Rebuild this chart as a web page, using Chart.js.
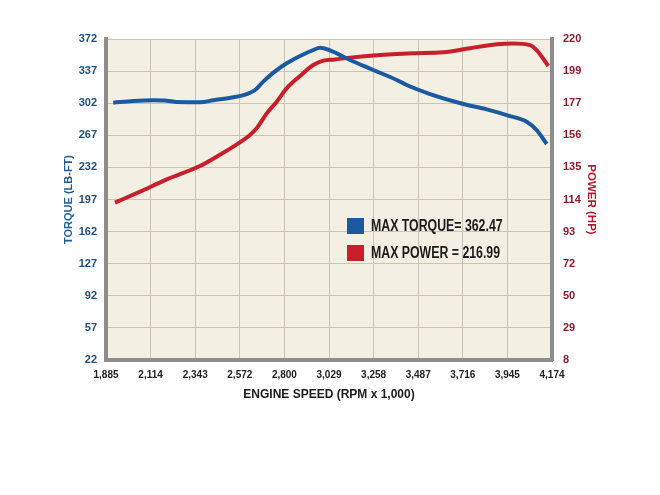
<!DOCTYPE html>
<html>
<head>
<meta charset="utf-8">
<title>Engine dyno</title>
<script src="https://cdn.jsdelivr.net/npm/chart.js@4.4.1/dist/chart.umd.min.js"></script>
<style>
  html, body { margin: 0; padding: 0; background: #fff; }
  #wrap { width: 660px; height: 495px; }
</style>
</head>
<body>
<div id="wrap"><canvas id="dynoChart" width="660" height="495"></canvas></div>
<script>
'use strict';

// ---- data
const torqueRpm = [1922, 2025, 2128, 2197, 2248, 2367, 2436, 2538, 2607, 2650, 2692, 2744, 2812, 2881, 2949, 2983,
  3035, 3137, 3257, 3377, 3428, 3548, 3719, 3839, 3958, 4044, 4095, 4147];
const torque = [302.6, 304.4, 305.2, 304.8, 303.3, 303, 305.2, 308.4, 312, 316.4, 325.5, 335.3, 345.5, 353.5, 360, 362.5,
  359.5, 349.1, 338.2, 327.3, 321.8, 312, 301.1, 295.3, 288, 281.8, 272.8, 257.5];

const powerRpm = [1931, 2060, 2197, 2367, 2453, 2538, 2624, 2658, 2710, 2761, 2812, 2881, 2949, 3000, 3060, 3137,
  3291, 3462, 3616, 3753, 3890, 3975, 4061, 4095, 4155];
const power = [111.9, 119.2, 127.3, 136.1, 142.3, 148.9, 156.6, 161, 170.9, 178.6, 187.4, 195.6, 202.8, 205.7, 206.5, 207.7,
  209.4, 210.6, 211.2, 213.9, 216.5, 217, 216, 212.7, 202.2];

const maxTorque = 362.47;
const maxPower = 216.99;

// tick labels as printed
const rpmLabels = ['1,885', '2,114', '2,343', '2,572', '2,800', '3,029', '3,258', '3,487', '3,716', '3,945', '4,174'];
const torqueLabels = ['22', '57', '92', '127', '162', '197', '232', '267', '302', '337', '372'];
const powerLabels = ['8', '29', '50', '72', '93', '114', '135', '156', '177', '199', '220'];

const FONT = "'Liberation Sans', Arial, sans-serif";
const BLUE = '#1b5aa0';
const RED = '#c81f2b';
const AXIS_GRAY = '#8d8d8d';
const GRID = '#cbc4b4';

// evenly spaced ticks between min and max, labels taken from an array
function evenTicks(labels) {
  return function (scale) {
    const n = labels.length - 1;
    const { min, max } = scale.options;
    scale.ticks = labels.map((_, i) => ({ value: min + (max - min) * i / n }));
  };
}

// ---- cream plot background
const plotBg = {
  id: 'plotBg',
  beforeDraw(chart) {
    const { ctx, chartArea: a } = chart;
    ctx.save();
    ctx.fillStyle = '#f4efe3';
    ctx.fillRect(a.left, a.top, a.right - a.left, a.bottom - a.top);
    ctx.restore();
  }
};

// ---- boxed "MAX" legend inside the plot (text squeezed to look condensed)
const maxLegend = {
  id: 'maxLegend',
  afterDatasetsDraw(chart) {
    const ctx = chart.ctx;
    const rows = [
      { color: chart.data.datasets[0].borderColor, text: 'MAX TORQUE= ' + maxTorque.toFixed(2), y: 218 },
      { color: chart.data.datasets[1].borderColor, text: 'MAX POWER = ' + maxPower.toFixed(2), y: 245 }
    ];
    rows.forEach(r => {
      ctx.save();
      ctx.fillStyle = r.color;
      ctx.fillRect(347, r.y, 17, 16);
      ctx.translate(371, r.y + 9);
      ctx.scale(0.77, 1);
      ctx.font = 'bold 16px ' + FONT;
      ctx.textBaseline = 'middle';
      ctx.fillStyle = '#1a1a1a';
      ctx.fillText(r.text, 0, 0);
      ctx.restore();
    });
  }
};

new Chart(document.getElementById('dynoChart'), {
  type: 'line',
  data: {
    datasets: [
      {
        label: 'Torque',
        data: torqueRpm.map((r, i) => ({ x: r, y: torque[i] })),
        yAxisID: 'y',
        borderColor: BLUE,
        borderWidth: 4,
        pointRadius: 0,
        cubicInterpolationMode: 'monotone'
      },
      {
        label: 'Power',
        data: powerRpm.map((r, i) => ({ x: r, y: power[i] })),
        yAxisID: 'y1',
        borderColor: RED,
        borderWidth: 4,
        pointRadius: 0,
        cubicInterpolationMode: 'monotone'
      }
    ]
  },
  options: {
    responsive: false,
    animation: false,
    layout: { padding: { top: 39, left: 0, right: 0, bottom: 0 } },
    plugins: { legend: { display: false }, tooltip: { enabled: false } },
    scales: {
      x: {
        type: 'linear',
        min: 1885, max: 4174,
        afterBuildTicks: evenTicks(rpmLabels),
        afterFit: s => { s.height = 135; },
        grid: { color: GRID, lineWidth: 1, drawTicks: false },
        border: { color: AXIS_GRAY, width: 4 },
        ticks: {
          autoSkip: false, maxRotation: 0, padding: 9,
          color: '#222', font: { family: FONT, size: 10, weight: 'bold' },
          callback: (v, i) => rpmLabels[i]
        },
        title: {
          display: true, text: 'ENGINE SPEED (RPM x 1,000)', color: '#1a1a1a',
          font: { family: FONT, size: 12, weight: 'bold' },
          padding: { top: 0, bottom: 93 }
        }
      },
      y: {
        position: 'left',
        min: 22, max: 372,
        afterBuildTicks: evenTicks(torqueLabels),
        afterFit: s => { s.width = 106; },
        grid: { color: GRID, lineWidth: 1, drawTicks: false },
        border: { color: AXIS_GRAY, width: 4 },
        ticks: {
          autoSkip: false, padding: 9,
          color: '#1d4f7c', font: { family: FONT, size: 11, weight: 'bold' },
          callback: (v, i) => torqueLabels[i]
        },
        title: {
          display: true, text: 'TORQUE (LB-FT)', color: '#1e5a94',
          font: { family: FONT, size: 11, weight: 'bold' },
          padding: { top: 62, bottom: 0 }
        }
      },
      y1: {
        position: 'right',
        min: 8, max: 220,
        afterBuildTicks: evenTicks(powerLabels),
        afterFit: s => { s.width = 108; },
        grid: { display: false, drawTicks: false },
        border: { color: AXIS_GRAY, width: 4 },
        ticks: {
          autoSkip: false, padding: 11,
          color: '#8e1b2c', font: { family: FONT, size: 11, weight: 'bold' },
          callback: (v, i) => powerLabels[i]
        },
        title: {
          display: true, text: 'POWER (HP)', color: '#b01c2c',
          font: { family: FONT, size: 11.5, weight: 'bold' },
          padding: { top: 62, bottom: 0 }
        }
      }
    }
  },
  plugins: [plotBg, maxLegend]
});
</script>
</body>
</html>
